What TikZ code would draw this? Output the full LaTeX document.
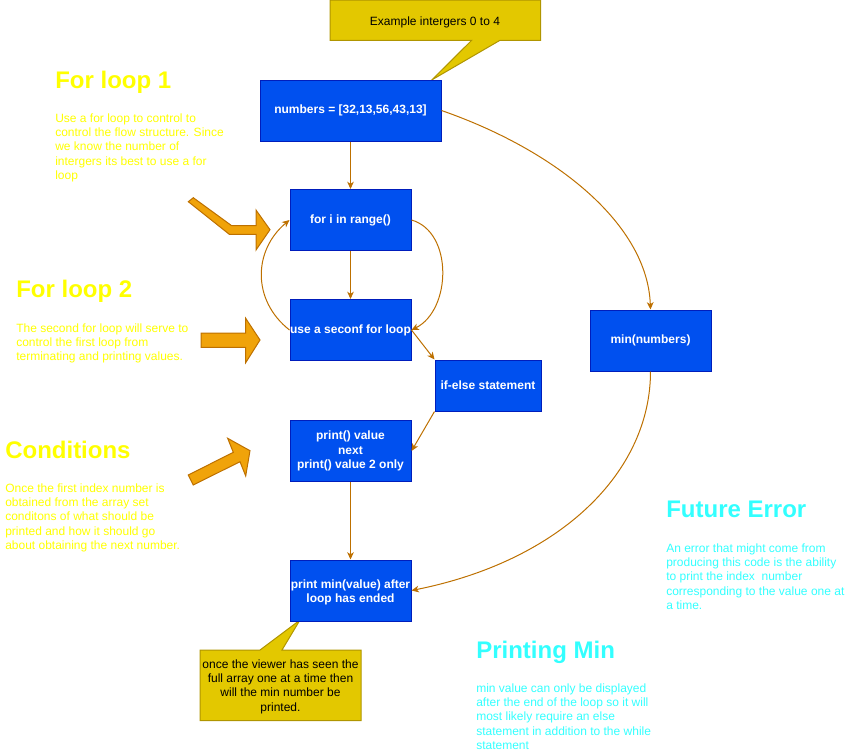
\documentclass[tikz,border=0pt]{standalone}
\usepackage{fontspec}
\setmainfont{Liberation Sans}
\usetikzlibrary{arrows.meta}
\definecolor{bluefill}{HTML}{0050EF}
\definecolor{bluedraw}{HTML}{001DBC}
\definecolor{linkc}{HTML}{BD7000}
\definecolor{orfill}{HTML}{F0A30A}
\definecolor{yelfill}{HTML}{E3C800}
\definecolor{yeldraw}{HTML}{B09500}
\definecolor{yeltext}{HTML}{FFFF00}
\definecolor{cyantext}{HTML}{33FFFF}
\begin{document}
\begin{tikzpicture}[x=0.75pt,y=-0.75pt,
 box/.style={draw=bluedraw,fill=bluefill,line width=0.75pt,text=white,font=\bfseries\fontsize{9}{10.8}\selectfont,align=center,inner sep=0pt,minimum width=90.75pt,minimum height=45.75pt},
 link/.style={draw=linkc,line width=0.75pt,-{Stealth[length=5.5pt,width=5pt,inset=1.6pt]}},
 blockarrow/.style={fill=orfill,draw=linkc,line width=0.75pt,line join=miter},
 callout/.style={fill=yelfill,draw=yeldraw,line width=0.75pt},
 head/.style={font=\bfseries\fontsize{18}{21.6}\selectfont,anchor=base west,inner sep=0pt},
 para/.style={font=\fontsize{9}{10.8}\selectfont,anchor=base west,inner sep=0pt,align=left},
 note/.style={font=\fontsize{9}{10.8}\selectfont,anchor=base,inner sep=0pt,align=center,text=black},
]
\useasboundingbox (0,0) rectangle (851,751);

% callouts
\path[callout] (330,0) -- (540.7,0) -- (540.7,40.3) -- (500,40.3) -- (431.7,80) -- (471.7,40.3) -- (330,40.3) -- cycle;
\node[note] (calltop) at (435,25) {Example intergers 0 to 4};
\path[callout] (200,650) -- (260,650) -- (300,620) -- (282,650) -- (361,650) -- (361,720.7) -- (200,720.7) -- cycle;
\node[note] (callbot) at (280.5,711.2) {once the viewer has seen the\\full array one at a time then\\will the min number be\\printed.};

% boxes
\node[box,minimum width=135.75pt] (numbers) at (350.5,110.5) {numbers = [32,13,56,43,13]};
\node[box] (fori) at (350.5,220) {for i in range()};
\node[box] (use) at (350.5,330) {use a seconf for loop};
\node[box,minimum width=79.5pt,minimum height=38.25pt] (ifelse) at (488,385.5) {if-else statement};
\node[box] (printv) at (350.5,451) {print() value\\next\\print() value 2 only};
\node[box] (printmin) at (350.5,590.5) {\rule{0pt}{9pt}print min(value) after\\loop has ended};
\node[box] (minnum) at (650.5,340.5) {min(numbers)};

% connectors
\draw[link] (numbers.south) -- (fori.north);
\draw[link] (fori.south) -- (use.north);
\draw[link] (printv.south) -- (printmin.north);
\draw[link] (fori.east) .. controls +(42,12) and +(40,-20) .. (use.east);
\draw[link] (use.west) .. controls +(-38,-30) and +(-36,30) .. (fori.west);
\draw[link] (use.east) -- (ifelse.north west);
\draw[link] (ifelse.south west) -- (printv.east);
\draw[link] (numbers.east) .. controls +(115,40) and +(-3,-85) .. (minnum.north);
\draw[link] (minnum.south) .. controls +(0,100) and +(150,-30) .. (printmin.east);

% block arrows
\path[blockarrow] (193.3,197.7) -- (231.7,225.7) -- (256,225.7) -- (256,210) -- (270,229.7) -- (256,250) -- (256,234.3) -- (229.3,234.3) -- (188.3,201.7) -- cycle;
\path[blockarrow] (201,333) -- (245.7,333) -- (245.7,318.3) -- (260,340) -- (245.7,362.7) -- (245.7,347.3) -- (201,347.3) -- cycle;
\path[blockarrow] (188.3,475) -- (233.3,452.3) -- (227.7,438.3) -- (250,450.7) -- (245.7,476) -- (240,461.7) -- (193.3,485) -- cycle;

% texts
\node[head,text=yeltext] (h1) at (55,88) {For loop 1};
\node[para,text=yeltext] (p1) at (55,179.6) {Use a for loop to control to\\control the flow structure. Since\\we know the number of\\intergers its best to use a for\\loop};
\node[head,text=yeltext] (h2) at (16,297) {For loop 2};
\node[para,text=yeltext] (p2) at (16,360.8) {The second for loop will serve to\\control the first loop from\\terminating and printing values.};
\node[head,text=yeltext] (h3) at (5,458) {Conditions};
\node[para,text=yeltext] (p3) at (5,549.6) {Once the first index number is\\obtained from the array set\\conditons of what should be\\printed and how it should go\\about obtaining the next number.};
\node[head,text=cyantext] (h4) at (666,517) {Future Error};
\node[para,text=cyantext] (p4) at (666,609.6) {An error that might come from\\producing this code is the ability\\to print the index\ \ number\\corresponding to the value one at\\a time.};
\node[head,text=cyantext] (h5) at (476,658) {Printing Min};
\node[para,text=cyantext] (p5) at (476,749.6) {min value can only be displayed\\after the end of the loop so it will\\most likely require an else\\statement in addition to the while\\statement};
\end{tikzpicture}
\end{document}
